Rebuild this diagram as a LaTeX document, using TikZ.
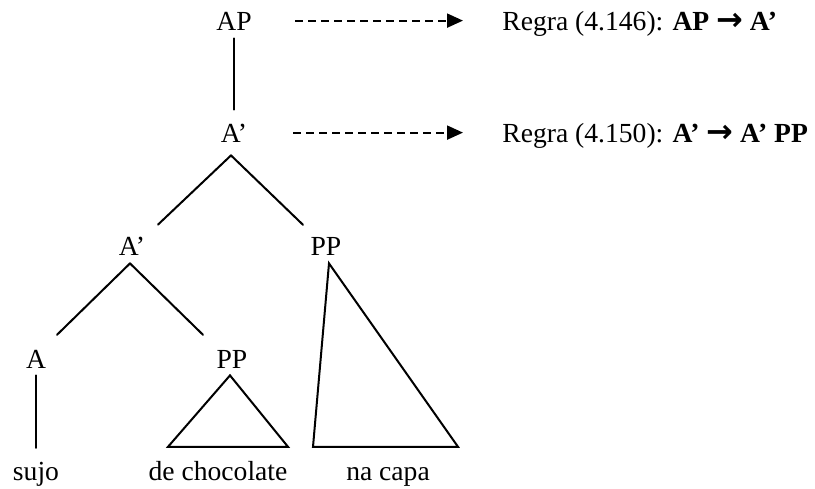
\documentclass[tikz,border=0pt]{standalone}
\usepackage{fontspec}
\setmainfont{Liberation Serif}
\newfontfamily\arrowfont{DejaVu Sans}
\newcommand{\rarr}{{\arrowfont\bfseries\fontsize{16}{16}\selectfont →}}
\usetikzlibrary{arrows.meta}

\begin{document}
\begin{tikzpicture}[x=0.5pt, y=-0.5pt, line cap=round,
  font=\fontsize{13.8}{16}\selectfont,
  cat/.style={anchor=base, inner sep=0pt, text height=9.4pt},
  branch/.style={line width=1pt},
  rulearrow/.style={line width=1pt, line cap=butt, dash pattern=on 4pt off 2.5pt,
    -{Triangle[length=8pt,width=7pt]}}]
  % Picture bounds (pixels)
  \def\pw{815} \def\ph{488}
  \useasboundingbox (0,0) rectangle (\pw,\ph);

  % Categories
  \node[cat] (ap) at (234,30) {AP};
  \node[cat] (abar1) at (234,142) {A’};
  \node[cat] (abar2) at (132,255) {A’};
  \node[cat] (pp1) at (326,255) {PP};
  \node[cat] (a) at (36,368) {A};
  \node[cat] (pp2) at (232,368) {PP};

  % Words
  \node[cat] (sujo) at (36,480) {sujo};
  \node[cat] (choc) at (218,480) {de chocolate};
  \node[cat] (capa) at (388,480) {na capa};

  % Rules
  \node[cat, anchor=base west] (rule1) at (502,30) {Regra (4.146): \textbf{AP \rarr\ A’}};
  \node[cat, anchor=base west] (rule2) at (502,142) {Regra (4.150): \textbf{A’ \rarr\ A’ PP}};

  % Branches
  \draw[branch, shorten <=4pt, shorten >=6.6pt] (ap.south) -- (abar1.north);
  \draw[branch] ([shift={(-1.5pt,-6.5pt)}]abar1.south) -- ([shift={(13pt,5.6pt)}]abar2.north);
  \draw[branch] ([shift={(-1.5pt,-6.5pt)}]abar1.south) -- ([shift={(-11.5pt,5.5pt)}]pp1.north);
  \draw[branch] ([shift={(-1pt,-4pt)}]abar2.south) -- ([shift={(10.5pt,7pt)}]a.north);
  \draw[branch] ([shift={(-1pt,-4pt)}]abar2.south) -- ([shift={(-14.5pt,7pt)}]pp2.north);
  \draw[branch, shorten <=3.5pt, shorten >=6.5pt] (a.south) -- (sujo.north);

  % Triangles
  \draw[branch] ([shift={(-1pt,-3.5pt)}]pp2.south) -- ([shift={(-25pt,7pt)}]choc.north)
    -- ([shift={(35pt,7pt)}]choc.north) -- cycle;
  \draw[branch] ([shift={(1.5pt,-4pt)}]pp1.south) -- ([shift={(-37.5pt,7pt)}]capa.north)
    -- ([shift={(35pt,7pt)}]capa.north) -- cycle;

  % Rule arrows
  \draw[rulearrow, shorten <=21.5pt, shorten >=19.5pt] (ap.east) -- (ap.east -| rule1.west);
  \draw[rulearrow, shorten <=23pt, shorten >=19.5pt] (abar1.east) -- (abar1.east -| rule2.west);
\end{tikzpicture}
\end{document}
